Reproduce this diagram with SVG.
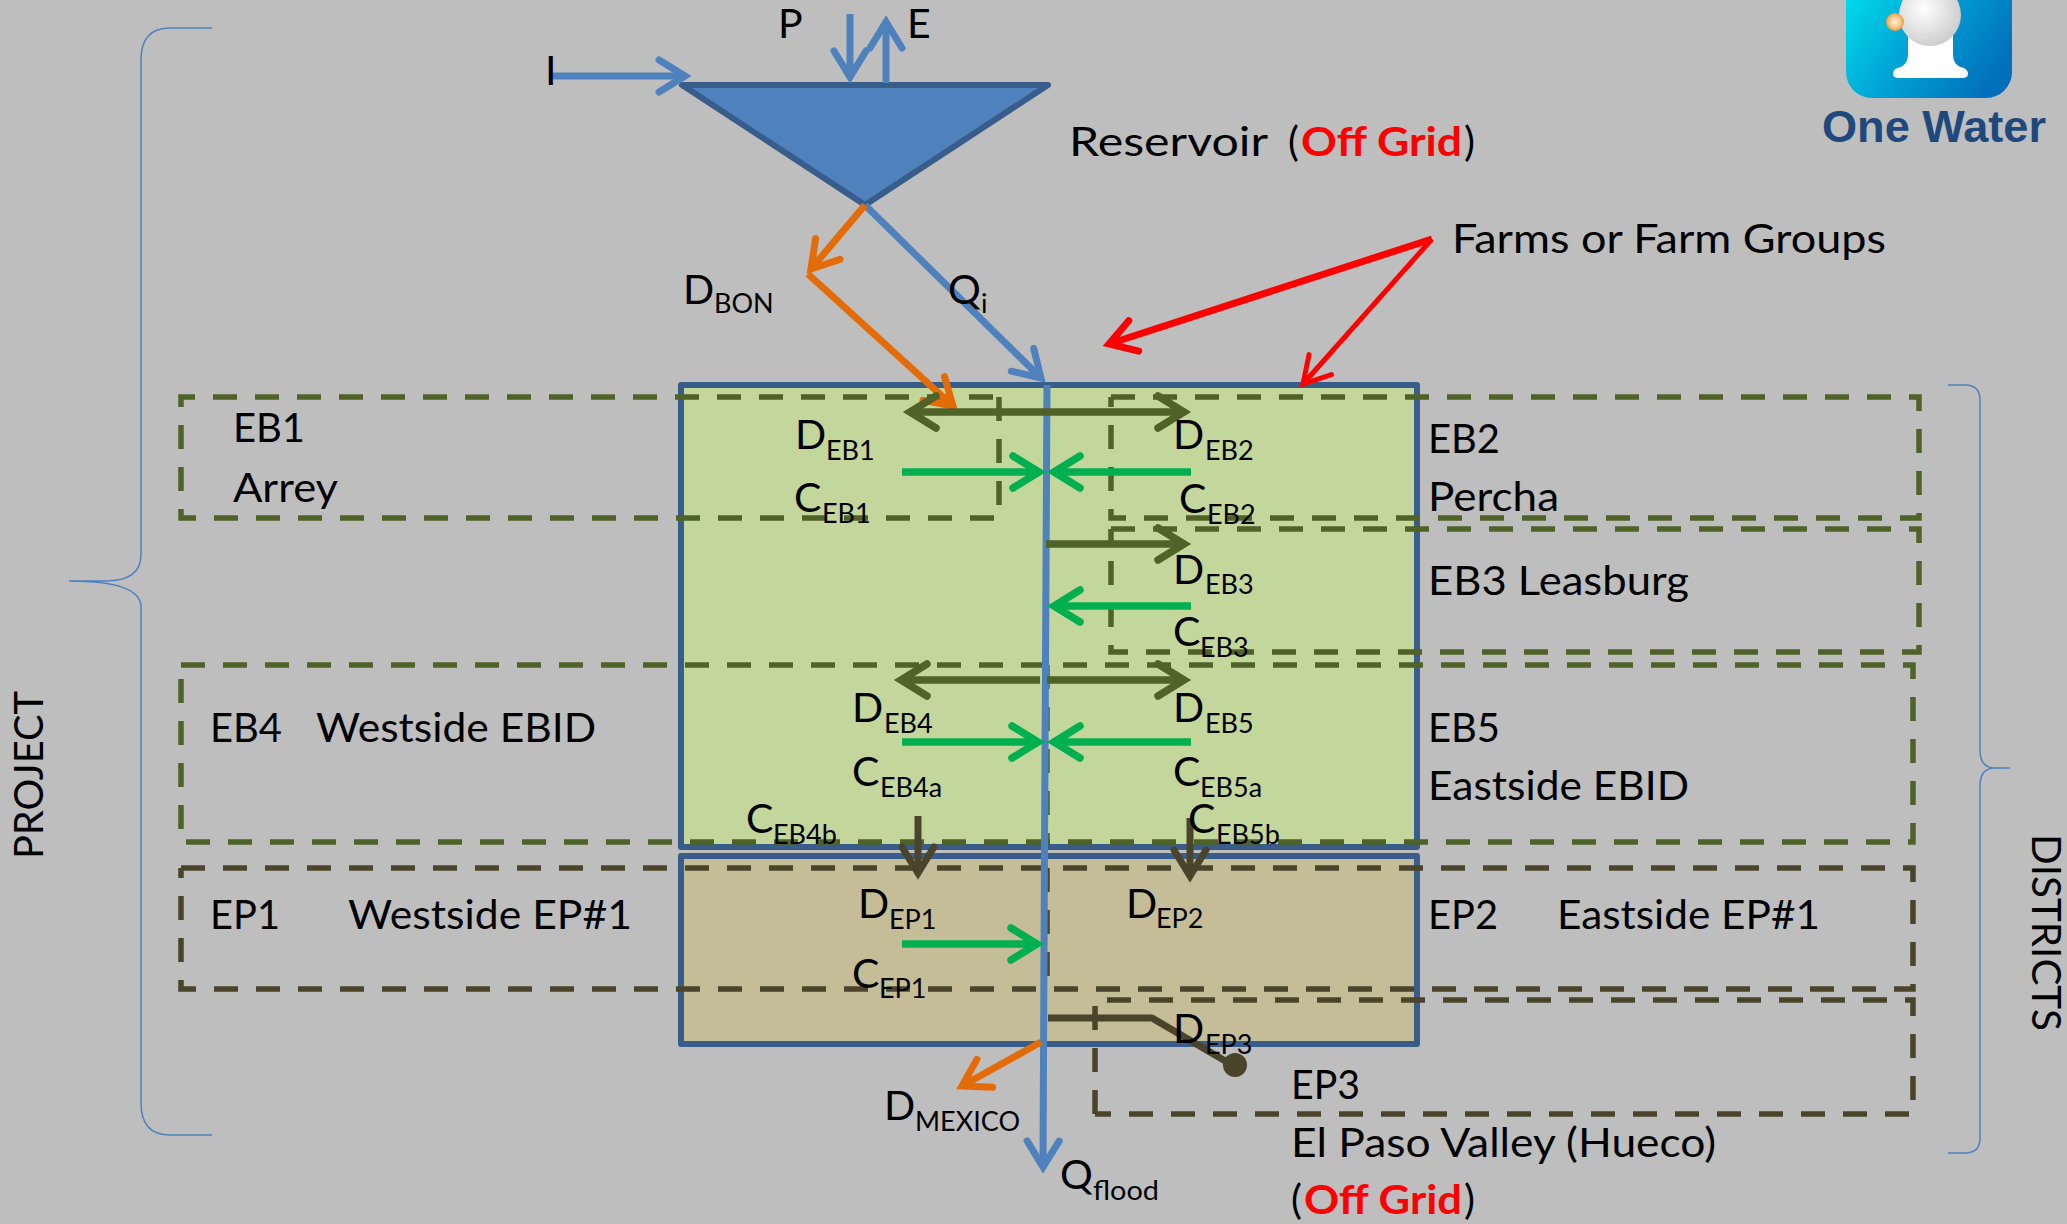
<svg xmlns="http://www.w3.org/2000/svg" width="2067" height="1224" viewBox="0 0 2067 1224">
<style>
text{font-family:"Lato","Carlito","Liberation Sans",sans-serif;font-size:41px;fill:#000}
.s{font-size:27px}
.red{fill:#f00;font-weight:700}
.box{stroke:#385D8A;stroke-width:6;stroke-linejoin:round}
.dash{fill:none;stroke:#4F6228;stroke-width:5.500;stroke-dasharray:24 18}
.dashd{fill:none;stroke:#4A452A;stroke-width:5.500;stroke-dasharray:24 18}
.c{fill:none;stroke-linecap:butt;stroke-linejoin:round}
.bl{stroke:#4F81BD;stroke-width:7}
.or{stroke:#E36C09;stroke-width:7}
.ol{stroke:#4F6228;stroke-width:7.500}
.gr{stroke:#00B050;stroke-width:7.500}
.dk{stroke:#4A452A;stroke-width:7}
.brace{fill:none;stroke:#4F81BD;stroke-width:1.500}
.hd{fill:none;stroke-linecap:round;stroke-linejoin:miter;stroke-miterlimit:10}
</style>
<defs>
<marker id="mb" markerUnits="userSpaceOnUse" orient="auto" markerWidth="80" markerHeight="80" viewBox="-40 -40 80 80" refX="0" refY="0"><path class="hd" d="M-26-16L0 0L-26 16" stroke="#4F81BD" stroke-width="7"/></marker>
<marker id="mo" markerUnits="userSpaceOnUse" orient="auto" markerWidth="80" markerHeight="80" viewBox="-40 -40 80 80" refX="0" refY="0"><path class="hd" d="M-26-16L0 0L-26 16" stroke="#E36C09" stroke-width="7"/></marker>
<marker id="ml" markerUnits="userSpaceOnUse" orient="auto" markerWidth="80" markerHeight="80" viewBox="-40 -40 80 80" refX="0" refY="0"><path class="hd" d="M-26-16L0 0L-26 16" stroke="#4F6228" stroke-width="7.500"/></marker>
<marker id="mg" markerUnits="userSpaceOnUse" orient="auto" markerWidth="80" markerHeight="80" viewBox="-40 -40 80 80" refX="0" refY="0"><path class="hd" d="M-26-16L0 0L-26 16" stroke="#00B050" stroke-width="7.500"/></marker>
<marker id="md" markerUnits="userSpaceOnUse" orient="auto" markerWidth="80" markerHeight="80" viewBox="-40 -40 80 80" refX="0" refY="0"><path class="hd" d="M-26-16L0 0L-26 16" stroke="#4A452A" stroke-width="7"/></marker>
<marker id="mr" markerUnits="userSpaceOnUse" orient="auto" markerWidth="80" markerHeight="80" viewBox="-40 -40 80 80" refX="0" refY="0"><path class="hd" d="M-26-16L0 0L-26 16" stroke="#f00" stroke-width="7"/></marker>
<marker id="mt" markerUnits="userSpaceOnUse" orient="auto" markerWidth="80" markerHeight="80" viewBox="-40 -40 80 80" refX="0" refY="0"><path class="hd" d="M-26-15L0 0L-26 15" stroke="#f00" stroke-width="5"/></marker>
<linearGradient id="lg" gradientUnits="userSpaceOnUse" x1="1850" y1="-10" x2="1990" y2="85"><stop offset="0" stop-color="#00DCEB"/><stop offset=".45" stop-color="#00A6D6"/><stop offset="1" stop-color="#0070BC"/></linearGradient>
<radialGradient id="sg" cx=".4" cy=".4" r=".6"><stop offset="0" stop-color="#fff"/><stop offset="1" stop-color="#CFCFCF"/></radialGradient>
<radialGradient id="og" cx=".5" cy=".5" r=".5"><stop offset="0" stop-color="#FFF3E0"/><stop offset=".6" stop-color="#F9C98A"/><stop offset="1" stop-color="#EE9A3C"/></radialGradient>
</defs>
<rect width="2067" height="1224" fill="#BEBEBE"/>

<g id="logo">
<rect x="1846" y="-40" width="166" height="138" rx="26" fill="url(#lg)"/>
<path d="M1908 30V54Q1908 66 1897 68Q1893 70 1893 74Q1893 78 1899 78H1962Q1968 78 1968 74Q1968 70 1964 68Q1953 66 1953 54V30Z" fill="#fff"/>
<circle cx="1930" cy="15" r="31" fill="url(#sg)"/>
<circle cx="1895" cy="22" r="9" fill="url(#og)"/>
<text x="1822" y="142" style="font-family:'Liberation Sans',sans-serif;font-weight:700;font-size:45px;fill:#1F497D" textLength="224" lengthAdjust="spacingAndGlyphs">One Water</text>
</g>

<g id="project-brace"><path class="brace" d="M212 28H170Q141 28 141 60V555Q141 581 105 581H69Q141 581 141 607V1103Q141 1135 170 1135H212"/><text transform="translate(43 859) rotate(-90)" textLength="168" lengthAdjust="spacingAndGlyphs">PROJECT</text></g>
<g id="districts-brace"><path class="brace" d="M1948 385H1965Q1980 385 1980 400V750Q1980 768 1995 768H2010H1995Q1980 768 1980 786V1138Q1980 1153 1965 1153H1948"/><text transform="translate(2032 834) rotate(90)" textLength="197" lengthAdjust="spacingAndGlyphs">DISTRICTS</text></g>

<g id="reservoir"><path d="M682 85H1048L865 205Z" fill="#4F81BD" class="box"/>
<text x="1069" y="156" textLength="199" lengthAdjust="spacingAndGlyphs">Reservoir</text>
<text x="1288" y="156">(</text><text x="1301" y="156" class="red" textLength="161" lengthAdjust="spacingAndGlyphs">Off Grid</text><text x="1464" y="156">)</text></g>

<g id="project-green"><rect x="681" y="385" width="736" height="462" fill="#C3D69B" class="box"/></g>
<g id="project-tan"><rect x="681" y="856" width="736" height="188" fill="#C4BD97" class="box"/></g>

<g id="districts">
<g id="EB1"><path class="dash" d="M999 397V518H181V397H999"/><text x="233" y="442" textLength="72" lengthAdjust="spacingAndGlyphs">EB1</text><text x="233" y="502" textLength="105" lengthAdjust="spacingAndGlyphs">Arrey</text></g>
<g id="EB2"><path class="dash" d="M1111 397H1919V518H1111V397"/><text x="1428" y="453" textLength="72" lengthAdjust="spacingAndGlyphs">EB2</text><text x="1428" y="511" textLength="131" lengthAdjust="spacingAndGlyphs">Percha</text></g>
<g id="EB3"><path class="dash" d="M1111 529H1919V652H1111V529"/><text x="1428" y="595" textLength="261" lengthAdjust="spacingAndGlyphs">EB3 Leasburg</text></g>
<g id="EB4-EB5"><path class="dash" d="M181 665H1913V842H181V665M1047 665V842"/><text x="210" y="742" textLength="72" lengthAdjust="spacingAndGlyphs">EB4</text><text x="316" y="742" textLength="280" lengthAdjust="spacingAndGlyphs">Westside EBID</text><text x="1428" y="742" textLength="72" lengthAdjust="spacingAndGlyphs">EB5</text><text x="1428" y="800" textLength="261" lengthAdjust="spacingAndGlyphs">Eastside EBID</text></g>
<g id="EP1-EP2"><path class="dashd" d="M181 868H1913V989H181V868M1047 868V989"/><text x="210" y="929" textLength="70" lengthAdjust="spacingAndGlyphs">EP1</text><text x="348" y="929" textLength="284" lengthAdjust="spacingAndGlyphs">Westside EP#1</text><text x="1428" y="929" textLength="70" lengthAdjust="spacingAndGlyphs">EP2</text><text x="1557" y="929" textLength="263" lengthAdjust="spacingAndGlyphs">Eastside EP#1</text></g>
<g id="EP3"><path class="dashd" d="M1095 1114V1000H1913V1114H1095"/><text x="1291" y="1099" textLength="69" lengthAdjust="spacingAndGlyphs">EP3</text><text x="1291" y="1157" textLength="425" lengthAdjust="spacingAndGlyphs">El Paso Valley (Hueco)</text><text x="1291" y="1214">(</text><text x="1304" y="1214" class="red" textLength="158" lengthAdjust="spacingAndGlyphs">Off Grid</text><text x="1464" y="1214">)</text></g>
</g>

<g id="connectors">
<path class="c bl" d="M1047 385L1044.500 850L1043 1167" marker-end="url(#mb)"/>
<path class="c bl" d="M549 76H685" marker-end="url(#mb)"/>
<path class="c bl" d="M850 14V77" marker-end="url(#mb)"/>
<path class="c bl" d="M886 83V22" marker-end="url(#mb)"/>
<path class="c bl" d="M865 205L1041 378" marker-end="url(#mb)"/>
<path class="c or" d="M865 205L811 269" marker-end="url(#mo)"/>
<path class="c or" d="M808 274L953 406" marker-end="url(#mo)"/>
<path class="c" stroke="#f00" stroke-width="7" d="M1432 239L1109 344" marker-end="url(#mr)"/>
<path class="c" stroke="#f00" stroke-width="5" d="M1432 239L1303 384" marker-end="url(#mt)"/>
<path class="c ol" d="M1047 412H910" marker-end="url(#ml)"/>
<path class="c ol" d="M1047 412H1184" marker-end="url(#ml)"/>
<path class="c gr" d="M902 472H1039" marker-end="url(#mg)"/>
<path class="c gr" d="M1191 472H1054" marker-end="url(#mg)"/>
<path class="c ol" d="M1046 544H1184" marker-end="url(#ml)"/>
<path class="c gr" d="M1191 606H1054" marker-end="url(#mg)"/>
<path class="c ol" d="M1040 680H901" marker-end="url(#ml)"/>
<path class="c ol" d="M1047 680H1184" marker-end="url(#ml)"/>
<path class="c gr" d="M902 742H1038" marker-end="url(#mg)"/>
<path class="c gr" d="M1191 742H1054" marker-end="url(#mg)"/>
<path class="c dk" d="M918 816V873" marker-end="url(#md)"/>
<path class="c dk" d="M1190 818V876" marker-end="url(#md)"/>
<path class="c gr" d="M902 944H1037" marker-end="url(#mg)"/>
<path class="c dk" d="M1048 1018H1152L1227 1062"/>
<ellipse cx="1235" cy="1065" rx="12" ry="12" fill="#4A452A"/>
<path class="c or" d="M1041 1042L962 1086" marker-end="url(#mo)"/>
</g>

<g id="labels" transform="translate(0 1)">
<text x="545" y="84">I</text><text x="778" y="37">P</text><text x="907" y="37">E</text>
<text x="1452" y="252" textLength="434" lengthAdjust="spacingAndGlyphs">Farms or Farm Groups</text>
<text x="683" y="303">D<tspan class="s" x="714" y="312">BON</tspan></text>
<text x="948" y="303">Q<tspan class="s" x="981" y="312">i</tspan></text>
<text x="795" y="448">D<tspan class="s" x="826" y="459">EB1</tspan></text>
<text x="794" y="511">C<tspan class="s" x="822" y="522">EB1</tspan></text>
<text x="1173" y="448">D<tspan class="s" x="1205" y="459">EB2</tspan></text>
<text x="1179" y="512">C<tspan class="s" x="1207" y="523">EB2</tspan></text>
<text x="1173" y="583">D<tspan class="s" x="1205" y="593">EB3</tspan></text>
<text x="1173" y="645">C<tspan class="s" x="1200" y="656">EB3</tspan></text>
<text x="852" y="721">D<tspan class="s" x="884" y="732">EB4</tspan></text>
<text x="1173" y="721">D<tspan class="s" x="1205" y="732">EB5</tspan></text>
<text x="852" y="785">C<tspan class="s" x="880" y="796">EB4a</tspan></text>
<text x="1173" y="785">C<tspan class="s" x="1200" y="796">EB5a</tspan></text>
<text x="746" y="832">C<tspan class="s" x="773" y="843">EB4b</tspan></text>
<text x="1188" y="832">C<tspan class="s" x="1216" y="843">EB5b</tspan></text>
<text x="858" y="917">D<tspan class="s" x="889" y="928">EP1</tspan></text>
<text x="1126" y="917">D<tspan class="s" x="1156" y="927">EP2</tspan></text>
<text x="852" y="987">C<tspan class="s" x="879" y="997">EP1</tspan></text>
<text x="1173" y="1042">D<tspan class="s" x="1205" y="1053">EP3</tspan></text>
<text x="884" y="1119">D<tspan class="s" x="915" y="1130">MEXICO</tspan></text>
<text x="1060" y="1188">Q<tspan class="s" x="1093" y="1199" textLength="66" lengthAdjust="spacingAndGlyphs">flood</tspan></text>
</g>
</svg>
